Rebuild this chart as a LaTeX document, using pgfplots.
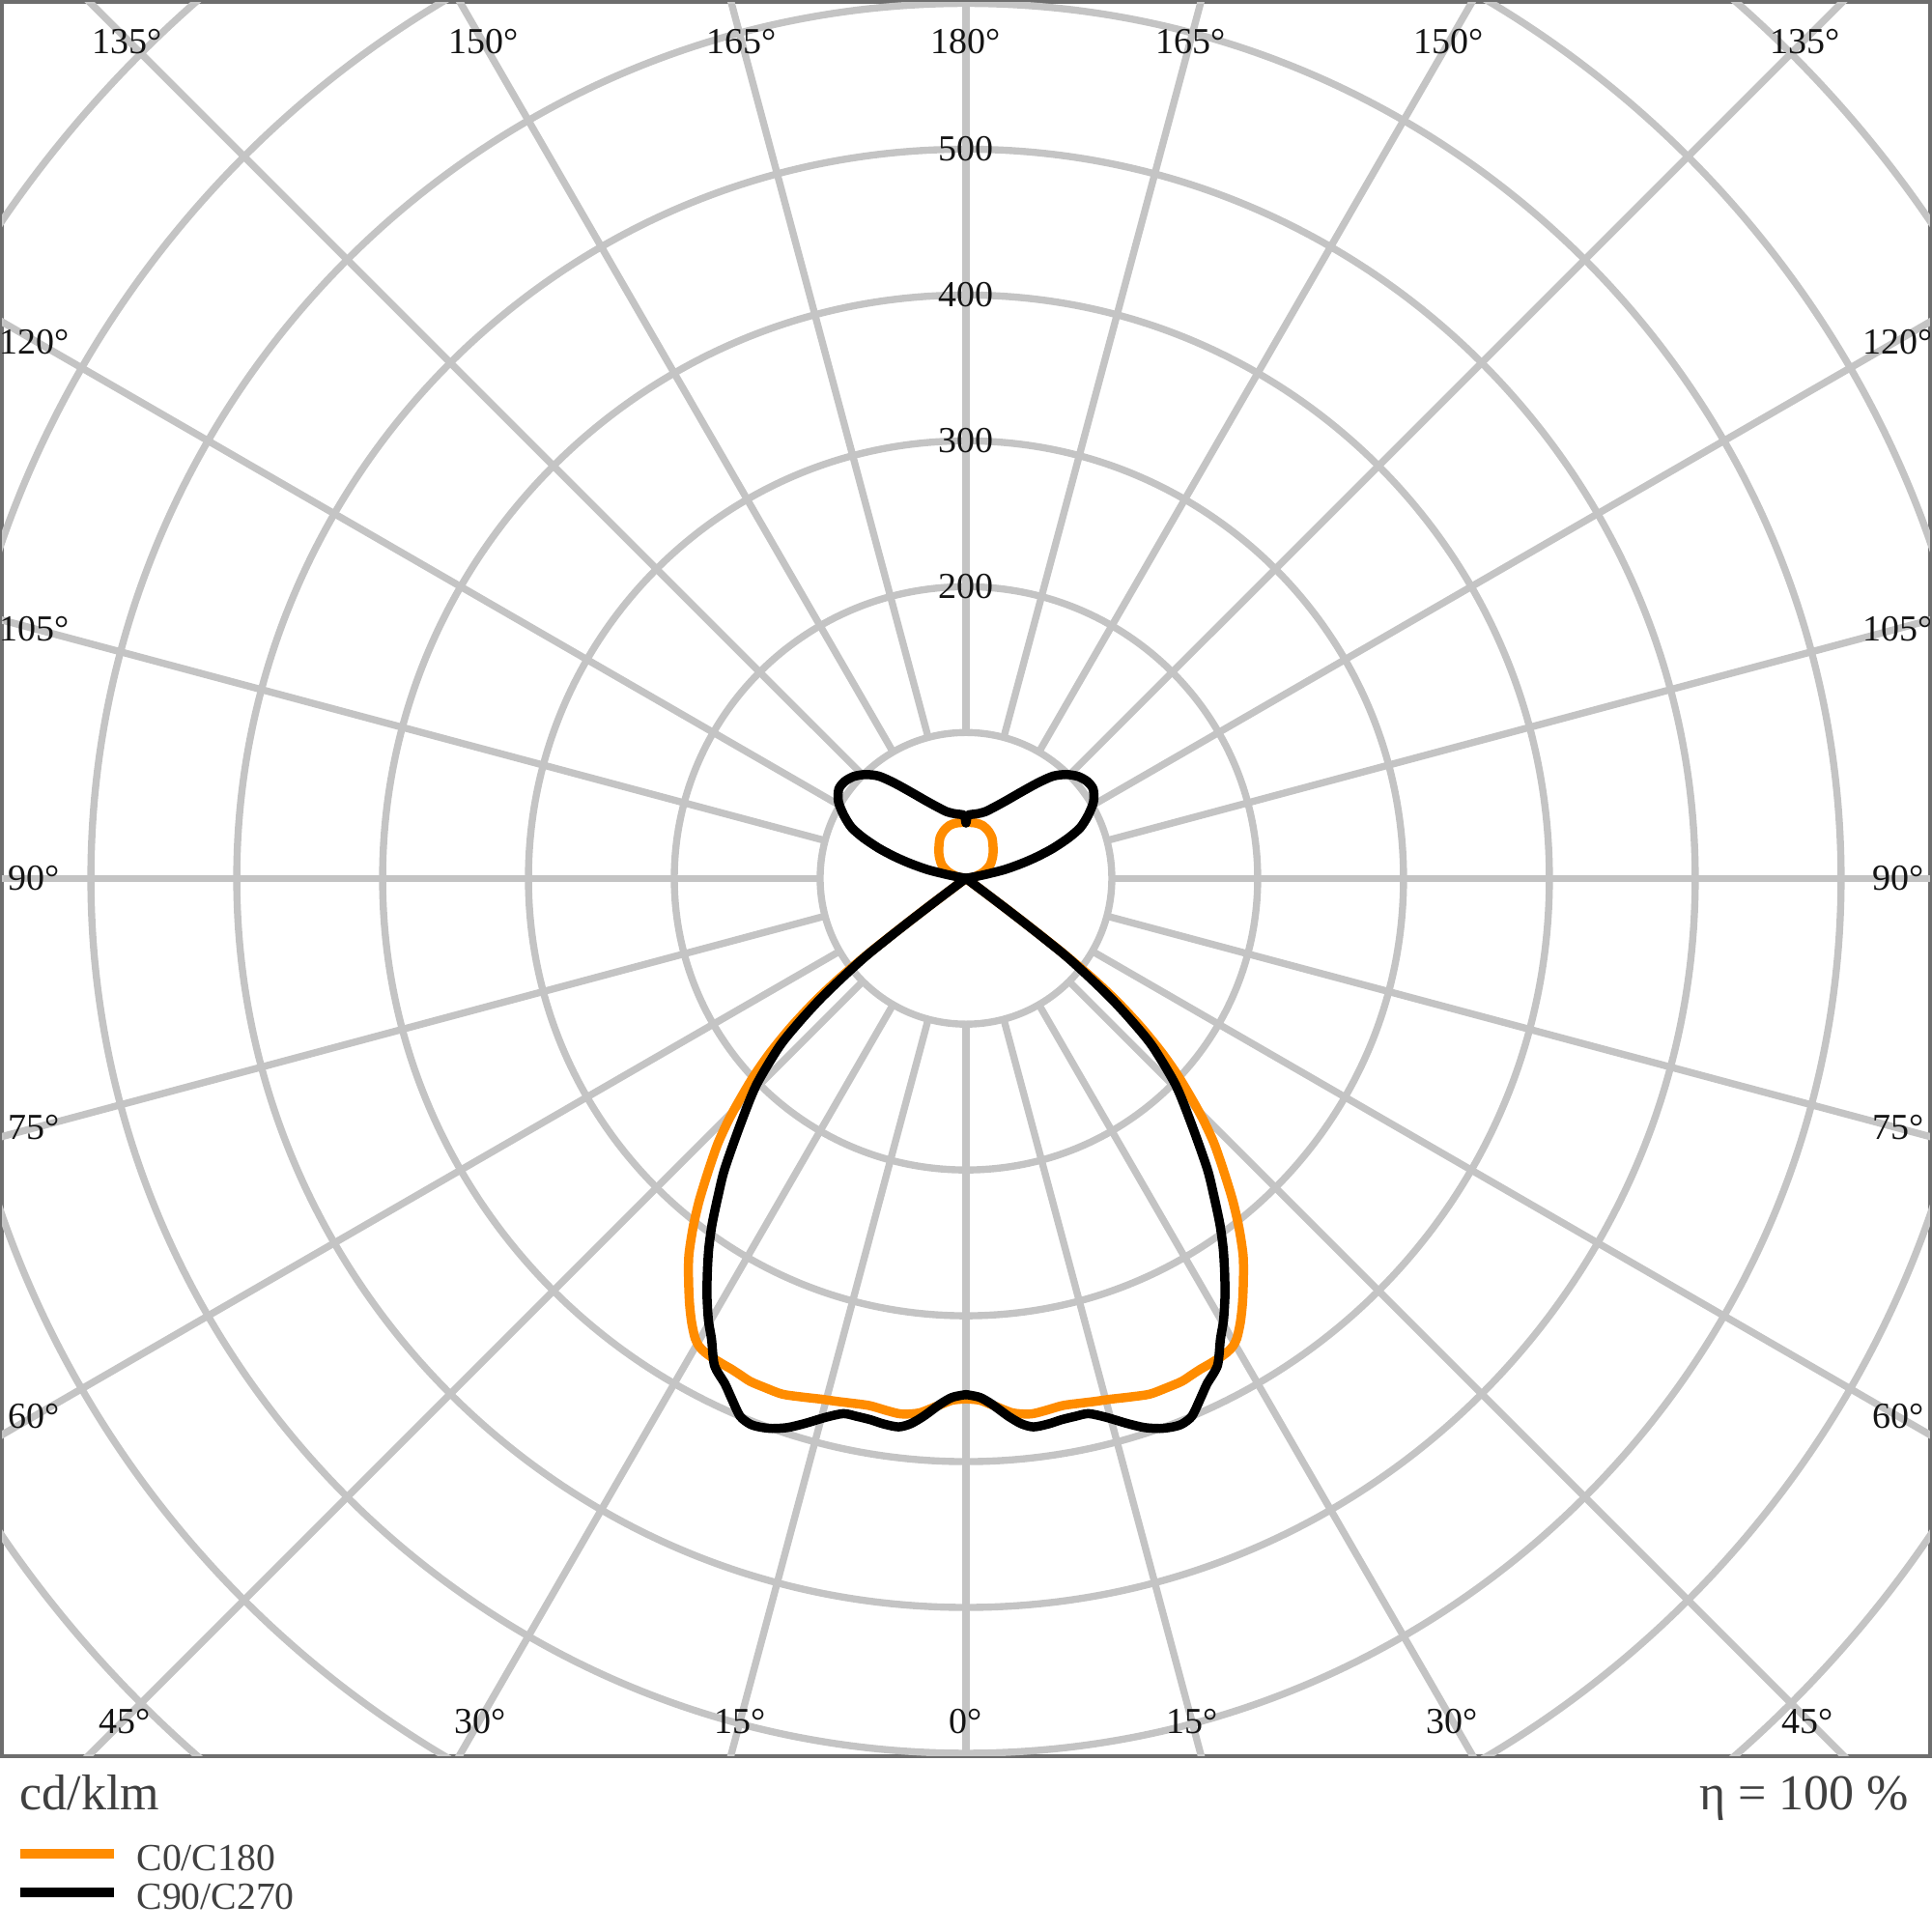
\documentclass[border=0pt]{standalone}
\usepackage{fontspec}
\setmainfont{Liberation Serif}
\usepackage{pgfplots}
\pgfplotsset{compat=1.18}
\usepackage{pgfplotstable}
\definecolor{gridgray}{RGB}{196,196,196}
\definecolor{framegray}{RGB}{110,110,110}
\definecolor{lorange}{RGB}{255,140,0}
\definecolor{txtgray}{RGB}{64,64,64}
\definecolor{lblblack}{RGB}{20,20,20}
\tikzset{lblstyle/.style={font=\fontsize{10.8}{13}\selectfont, text=lblblack, inner sep=0pt}}

% C0/C180 : gamma (deg), intensity (cd/klm)
\pgfplotstableread{
g r
0 357
1.5 358
3 362
5 368
6.9 370
8.5 369
10.4 367.6
12.5 368.5
13.9 369.5
15.5 370.7
17.5 373
19.6 375.5
21.5 375.5
23.2 375.4
24.5 374
25.6 373
26.4 372.7
27.8 372
28.9 371
29.7 369.4
30.5 366
31.7 358
33 348
34.6 335
36.3 321
38 304
39.6 287
41.3 268
43.1 249
44.5 232
45.7 216
47 199
48.3 180
49.6 158
50.8 134
51.7 110
52.4 80
52.9 40
53.3 0
100 6
110 13
119.3 19
130 24
138.8 28.2
147.3 33
155 36
162.8 38
170 38.5
180 38.5
}\tblCzero

% C90/C270
\pgfplotstableread{
g r
0 354
1.5 356
2.8 361
4.5 370
5.8 376
7 379
8.5 378.5
10 377
11.5 376.5
12.9 376.6
14.6 382
16.5 390
18 396
19.4 400
20.6 402
21.6 402.5
22.8 400
24.3 391
25.5 384
27.3 376
28.9 361
30.2 351
31.8 337
33.3 323
34.8 309
36.3 294
38 276
39.7 259
42.5 229
45.4 202
48 172
49.3 150
50.4 129
51.4 105
52.2 84
52.7 50
53 20
53.3 0
101 12
102.7 27
105 40
106.9 51
109 63
111.6 76
114 86
117.4 94.5
121 102
125 106.5
128.5 106.5
132.2 104
136 99
139.6 92
143 82
147.5 70
152 61
157 54
163.8 47.6
170 45
175 44
178.5 43
180 38
}\tblCninety

\pgfplotsset{
  curve/.style={line width=2.7pt, line join=round, line cap=round, smooth, tension=0.45},
  lowpart/.style={restrict expr to domain={\thisrow{g}}{0:53.4}},
  uppart/.style={restrict expr to domain={\thisrow{g}}{53.2:180}},
  rightside/.style={/pgfplots/table/x expr={\thisrow{r}*sin(\thisrow{g})}, /pgfplots/table/y expr={-\thisrow{r}*cos(\thisrow{g})}},
  leftside/.style={/pgfplots/table/x expr={-\thisrow{r}*sin(\thisrow{g})}, /pgfplots/table/y expr={-\thisrow{r}*cos(\thisrow{g})}},
}

\begin{document}
\begin{tikzpicture}
\path[use as bounding box] (0,0) rectangle (20cm,-20cm);
\begin{axis}[
  at={(0.02cm,-0.02cm)}, anchor=north west,
  scale only axis, width=19.96cm, height=18.16cm,
  xmin=-661, xmax=661, ymin=-602, ymax=601,
  xtick=\empty, ytick=\empty,
  axis line style={draw=framegray, line width=0.9pt},
  clip=true,
  legend style={at={(0,0)}, anchor=north west, xshift=0.13cm, yshift=-0.90cm,
    draw=none, fill=none, inner sep=0pt, row sep=0pt, column sep=0.19cm,
    font=\fontsize{11.3}{13}\selectfont, text=txtgray,
    nodes={inner sep=0pt, text height=0.28cm, text depth=0.12cm}},
  legend cell align=left,
  legend image code/.code={\draw[#1, line cap=butt, line width=2.8pt] (0cm,0.10cm) -- (0.97cm,0.10cm);},
]
% grid circles
\pgfplotsinvokeforeach{100,200,...,900}{
  \draw[gridgray, line width=2.1pt] (axis cs:0,0) circle[radius=#1];
}
% radial lines
\pgfplotsinvokeforeach{0,15,...,345}{
  \draw[gridgray, line width=2.1pt] (axis cs:{100*sin(#1)},{-100*cos(#1)}) -- (axis cs:{1000*sin(#1)},{-1000*cos(#1)});
}
% C0/C180
\addplot[lorange, curve, lowpart] table[rightside] {\tblCzero};
\addlegendentry{C0/C180}
\addplot[lorange, curve, lowpart, forget plot] table[leftside] {\tblCzero};
\addplot[lorange, curve, uppart, forget plot] table[rightside] {\tblCzero};
\addplot[lorange, curve, uppart, forget plot] table[leftside] {\tblCzero};
% C90/C270
\addplot[black, curve, lowpart] table[rightside] {\tblCninety};
\addlegendentry{C90/C270}
\addplot[black, curve, lowpart, forget plot] table[leftside] {\tblCninety};
\addplot[black, curve, uppart, forget plot] table[rightside] {\tblCninety};
\addplot[black, curve, uppart, forget plot] table[leftside] {\tblCninety};
% ring labels
\node[lblstyle] at (axis cs:0,200) {200};
\node[lblstyle] at (axis cs:0,300) {300};
\node[lblstyle] at (axis cs:0,400) {400};
\node[lblstyle] at (axis cs:0,500) {500};
% top angle labels
\node[lblstyle] at (axis cs:-575,574) {135°};
\node[lblstyle] at (axis cs:-331,574) {150°};
\node[lblstyle] at (axis cs:-154,574) {165°};
\node[lblstyle] at (axis cs:0,574) {180°};
\node[lblstyle] at (axis cs:154,574) {165°};
\node[lblstyle] at (axis cs:331,574) {150°};
\node[lblstyle] at (axis cs:575,574) {135°};
% side angle labels
\node[lblstyle] at (axis cs:-639,368) {120°};
\node[lblstyle] at (axis cs:-639,171) {105°};
\node[lblstyle] at (axis cs:-639,0) {90°};
\node[lblstyle] at (axis cs:-639,-171) {75°};
\node[lblstyle] at (axis cs:-639,-369) {60°};
\node[lblstyle] at (axis cs:639,368) {120°};
\node[lblstyle] at (axis cs:639,171) {105°};
\node[lblstyle] at (axis cs:639,0) {90°};
\node[lblstyle] at (axis cs:639,-171) {75°};
\node[lblstyle] at (axis cs:639,-369) {60°};
% bottom angle labels
\node[lblstyle] at (axis cs:-577,-578) {45°};
\node[lblstyle] at (axis cs:-333,-578) {30°};
\node[lblstyle] at (axis cs:-155,-578) {15°};
\node[lblstyle] at (axis cs:0,-578) {0°};
\node[lblstyle] at (axis cs:155,-578) {15°};
\node[lblstyle] at (axis cs:333,-578) {30°};
\node[lblstyle] at (axis cs:577,-578) {45°};
\end{axis}
\node[anchor=base west, inner sep=0pt, text=txtgray, font=\fontsize{14.8}{17}\selectfont] at (0.20cm,-18.73cm) {cd/klm};
\node[anchor=base east, inner sep=0pt, text=txtgray, font=\fontsize{14.8}{17}\selectfont] at (19.77cm,-18.73cm) {η = 100 \%};
\end{tikzpicture}
\end{document}
